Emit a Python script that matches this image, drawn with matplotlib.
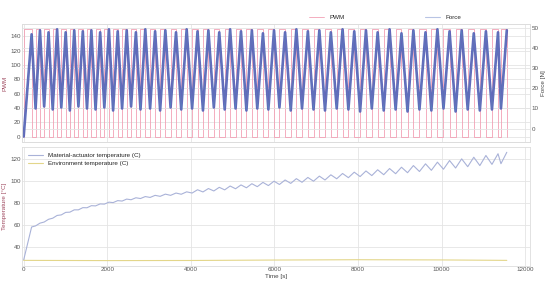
import numpy as np
import matplotlib.pyplot as plt
import seaborn as sns

# switching times of the PWM signal [s]
pwm_on = [0, 285, 490, 695, 900, 1105, 1310, 1515, 1720, 1930, 2140, 2355,
          2570, 2795, 3025, 3265, 3515, 3770, 4030, 4290, 4550, 4810, 5070,
          5330, 5590, 5855, 6120, 6390, 6660, 6935, 7210, 7490, 7770, 8050,
          8330, 8615, 8900, 9185, 9470, 9755, 10045, 10335, 10625, 10915,
          11205, 11420]
pwm_off = [190, 390, 595, 800, 1005, 1210, 1415, 1620, 1830, 2040, 2250, 2465,
           2685, 2910, 3145, 3390, 3645, 3900, 4160, 4420, 4680, 4940, 5200,
           5460, 5725, 5990, 6255, 6525, 6800, 7075, 7350, 7630, 7910, 8190,
           8470, 8755, 9040, 9325, 9615, 9900, 10190, 10480, 10770, 11060,
           11350, 11560]
pwm_high = 150

# force at the start (trough) and end (peak) of each PWM pulse [N]
force_trough = [-4, 10, 11, 9.5, 10.5, 9, 11, 10, 9.5, 10.5, 9, 10, 11, 9.5,
                10, 9, 10.5, 9.5, 10, 9, 10.5, 9.5, 10, 9, 10, 9.5, 10.5, 9,
                10, 9.5, 9, 10, 9.5, 8.5, 10, 9, 9.5, 8.5, 9.5, 9, 10, 8.5,
                9.5, 9, 9.5, 10]
force_peak = [47, 49, 48, 49.5, 48, 49, 48.5, 49, 48, 49.5, 48.5, 49, 48, 49.5,
              48.5, 49, 48, 49.5, 48.5, 49, 48, 49.5, 48.5, 49, 47.5, 49, 48,
              49.5, 48.5, 49, 48, 49.5, 48.5, 49, 48, 49.5, 47.5, 49, 48,
              49.5, 48.5, 49, 47.5, 48.5, 48, 49]

# actuator temperature at pulse start / pulse end [C]
temp_trough = [28, 59, 62.5, 66, 69, 71.5, 73.6, 75.5, 77.2, 78.8, 80.2, 81.6,
               82.8, 83.9, 84.9, 85.9, 86.8, 87.8, 88.9, 89.9, 90.8, 91.8, 92.8,
               93.7, 94.7, 95.7, 96.7, 97.7, 98.7, 99.7, 100.8, 101.9, 102.9,
               103.9, 104.8, 105.6, 106.5, 107.4, 108.5, 109.6, 110.6, 111.7,
               112.9, 113.9, 115, 115.6]
temp_peak = [58, 61.5, 65, 68.5, 71.3, 73.6, 75.6, 77.4, 79, 80.6, 82, 83.4,
             84.6, 85.7, 86.8, 87.9, 88.9, 90, 91.9, 93, 94.1, 95.3, 96.3,
             97.4, 98.6, 99.7, 100.8, 102, 103.1, 104.3, 105.5, 106.7, 107.9,
             109, 110.1, 111.2, 112.4, 113.9, 115.5, 117, 118.5, 120, 121.5,
             123.1, 124.7, 126]

env_time = [0, 2000, 4000, 6000, 8000, 10000, 11560]
env_temp = [27.6, 27.4, 27.5, 27.9, 28.2, 28.0, 27.6]

# build the curves: one point per switching edge
t_edges, pwm_level, force_vals, temp_vals = [0], [0], [], []
for on, off in zip(pwm_on, pwm_off):
    t_edges += [on, off]
    pwm_level += [pwm_high, 0]
t_zig = [t for pair in zip(pwm_on, pwm_off) for t in pair]
for lo, hi in zip(force_trough, force_peak):
    force_vals += [lo, hi]
for lo, hi in zip(temp_trough, temp_peak):
    temp_vals += [lo, hi]

sns.set_theme(style='whitegrid')
plt.rcParams['font.family'] = ['Liberation Sans', 'DejaVu Sans']
plt.rcParams['axes.edgecolor'] = '#dddddd'
plt.rcParams['grid.color'] = '#e4e4e4'
plt.rcParams['grid.linewidth'] = 0.6
plt.rcParams['axes.linewidth'] = 0.6

fig = plt.figure(figsize=(5.5, 2.92), dpi=100)
ax1 = fig.add_axes([0.04, 0.514, 0.924, 0.404])
ax3 = fig.add_axes([0.04, 0.089, 0.924, 0.408], sharex=ax1)
ax2 = ax1.twinx()

fs = 4.5
pwm_line, = ax1.step(t_edges, pwm_level, where='post', color='#f2a0b4',
                     lw=0.6, label='PWM')
ax2.plot(t_zig, force_vals, color='#5866bb', lw=1.9, alpha=0.95)
ax2.plot(t_zig, force_vals, color='#7e4fae', lw=0.6, alpha=0.8)
ax2.plot(t_zig, force_vals, color='#3aa6c6', lw=0.4, alpha=0.6)
force_line, = ax2.plot([], [], color='#b8c4e4', lw=0.8, label='Force')

ax1.set_ylabel('PWM', fontsize=fs, color='#a04a60', labelpad=2)
ax2.set_ylabel('Force [N]', fontsize=fs, color='#444444', labelpad=2)
ax1.set_yticks(range(0, 141, 20))
ax2.set_yticks(range(0, 51, 10))
ax2.grid(True)
for a in (ax1, ax2, ax3):
    a.tick_params(labelsize=fs, colors='#555555', pad=1, length=0)
plt.setp(ax1.get_xticklabels(), visible=False)
ax1.set_xlim(-40, 12120)

ax1.legend([pwm_line, force_line], ['PWM', 'Force'], loc='lower left',
           bbox_to_anchor=(0.557, 1.0), ncol=2, columnspacing=12.8,
           frameon=False, fontsize=fs, handlelength=2.5, borderaxespad=0.2)

ax3.plot(t_zig, temp_vals, color='#a9b2d8', lw=0.8,
         label='Material-actuator temperature (C)')
ax3.plot(env_time, env_temp, color='#e3d68a', lw=0.8,
         label='Environment temperature (C)')
ax3.set_ylabel('Temperature [°C]', fontsize=fs, color='#a04a60', labelpad=2)
ax3.set_xlabel('Time [s]', fontsize=fs, color='#444444', labelpad=1)
ax3.set_xticks(range(0, 12001, 2000))
ax3.set_yticks(range(40, 121, 20))
ax3.legend(loc='upper left', fontsize=fs, frameon=False, handlelength=2.5)

fig.savefig('out.png', dpi=100)
